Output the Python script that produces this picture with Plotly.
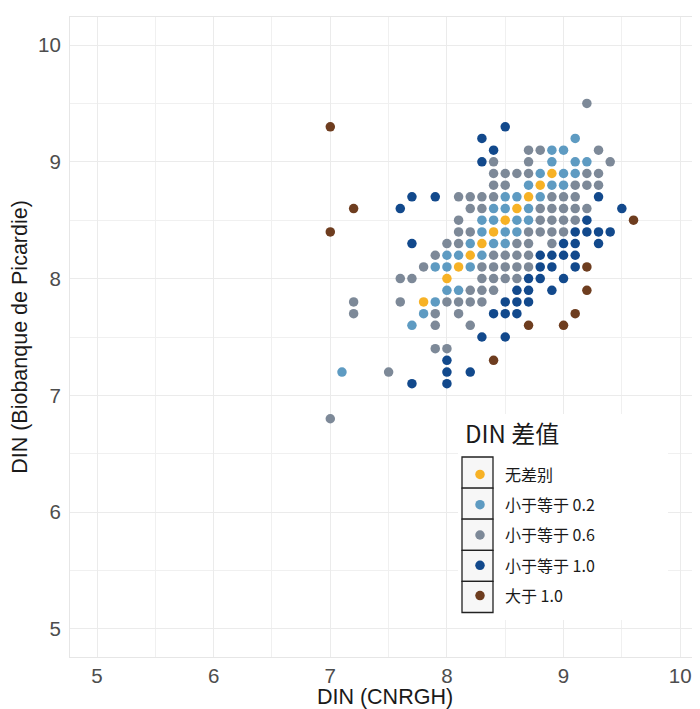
import plotly.graph_objects as go

# ---- data (DIN CNRGH = x, DIN Biobanque de Picardie = y) ----
cat_names = ["无差别", "小于等于 0.2", "小于等于 0.6", "小于等于 1.0", "大于 1.0"]
cat_colors = ["#F7B226", "#5E9BC2", "#7D8998", "#12498C", "#6E3D1F"]
legend_title = "DIN 差值"

same_x = [7.8, 8.0, 8.1, 8.2, 8.3, 8.4, 8.5, 8.6, 8.7, 8.8, 8.9]
same_y = [7.8, 8.0, 8.1, 8.2, 8.3, 8.4, 8.5, 8.6, 8.7, 8.8, 8.9]

le02_x = [9.1, 8.9, 9.0, 8.9, 9.1, 9.2, 8.8, 9.0, 9.1, 8.7, 8.9, 9.0,
          8.5, 8.6, 8.8, 8.4, 8.5, 8.7, 8.3, 8.4, 8.6, 8.7, 8.3, 8.5, 8.6,
          8.2, 8.4, 8.5, 8.0, 8.1, 8.3, 7.9, 8.0, 8.2, 8.0, 8.1, 7.9, 7.8,
          7.7, 7.1]
le02_y = [9.2, 9.1, 9.1, 9.0, 9.0, 9.0, 8.9, 8.9, 8.9, 8.8, 8.8, 8.8,
          8.7, 8.7, 8.7, 8.6, 8.6, 8.6, 8.5, 8.5, 8.5, 8.5, 8.4, 8.4, 8.4,
          8.3, 8.3, 8.3, 8.2, 8.2, 8.2, 8.1, 8.1, 8.1, 7.9, 7.9, 7.8, 7.7,
          7.6, 7.2]

le06_x = [9.2,
          8.7, 8.8, 9.3,
          8.4, 8.7, 9.4,
          8.4, 8.5, 8.6, 8.7, 9.2, 9.3,
          8.4, 8.5, 9.1, 9.2, 9.3,
          8.1, 8.2, 8.3, 8.4, 8.9, 9.0, 9.1,
          8.2, 8.3, 8.8, 8.9, 9.0, 9.1, 9.2,
          8.1, 8.8, 8.9, 9.0, 9.1,
          8.1, 8.2, 8.7, 8.8, 8.9, 9.0,
          8.0, 8.1, 8.6, 8.7, 8.9,
          7.9, 8.4, 8.5, 8.6, 8.7,
          7.8, 8.3, 8.4, 8.5, 8.6, 8.7,
          7.6, 7.7, 8.3, 8.4, 8.5, 8.6,
          8.2, 8.3, 8.4,
          7.2, 7.6, 8.0, 8.1, 8.2, 8.3,
          7.2, 7.9, 8.1,
          7.9, 8.2,
          7.9, 8.0,
          7.5,
          7.0]
le06_y = [9.5,
          9.1, 9.1, 9.1,
          9.0, 9.0, 9.0,
          8.9, 8.9, 8.9, 8.9, 8.9, 8.9,
          8.8, 8.8, 8.8, 8.8, 8.8,
          8.7, 8.7, 8.7, 8.7, 8.7, 8.7, 8.7,
          8.6, 8.6, 8.6, 8.6, 8.6, 8.6, 8.6,
          8.5, 8.5, 8.5, 8.5, 8.5,
          8.4, 8.4, 8.4, 8.4, 8.4, 8.4,
          8.3, 8.3, 8.3, 8.3, 8.3,
          8.2, 8.2, 8.2, 8.2, 8.2,
          8.1, 8.1, 8.1, 8.1, 8.1, 8.1,
          8.0, 8.0, 8.0, 8.0, 8.0, 8.0,
          7.9, 7.9, 7.9,
          7.8, 7.8, 7.8, 7.8, 7.8, 7.8,
          7.7, 7.7, 7.7,
          7.6, 7.6,
          7.4, 7.4,
          7.2,
          6.8]

le10_x = [8.5, 8.3, 8.4, 8.3, 7.7, 7.9, 9.3, 7.6, 9.5, 9.2,
          9.1, 9.2, 9.3, 9.4, 7.7, 9.0, 9.1, 9.3, 8.8, 8.9, 9.0, 9.1,
          8.8, 8.9, 9.1, 8.7, 8.8, 9.0, 8.6, 8.7, 8.9, 8.5, 8.6, 8.7,
          8.4, 8.5, 8.6, 8.3, 8.5, 8.0, 8.0, 8.2, 7.7, 8.0]
le10_y = [9.3, 9.2, 9.1, 9.0, 8.7, 8.7, 8.7, 8.6, 8.6, 8.5,
          8.4, 8.4, 8.4, 8.4, 8.3, 8.3, 8.3, 8.3, 8.2, 8.2, 8.2, 8.2,
          8.1, 8.1, 8.1, 8.0, 8.0, 8.0, 7.9, 7.9, 7.9, 7.8, 7.8, 7.8,
          7.7, 7.7, 7.7, 7.5, 7.5, 7.3, 7.2, 7.2, 7.1, 7.1]

gt10_x = [7.0, 7.2, 7.0, 9.6, 9.2, 9.2, 9.1, 8.7, 9.0, 8.4]
gt10_y = [9.3, 8.6, 8.4, 8.5, 8.1, 7.9, 7.7, 7.6, 7.6, 7.3]

x_ticks = [5, 6, 7, 8, 9, 10]
y_ticks = [5, 6, 7, 8, 9, 10]

series = [(same_x, same_y), (le02_x, le02_y), (le06_x, le06_y),
          (le10_x, le10_y), (gt10_x, gt10_y)]

# ---- figure (page body has an 8px margin) ----
OFF = 8
W, H = 692, 701
ML, MR, MT, MB = 62, 0, 9, 52
PW, PH = W - ML - MR, H - MT - MB

fig = go.Figure()
for i, (name, col, (xs, ys)) in enumerate(zip(cat_names, cat_colors, series)):
    fig.add_trace(go.Scatter(
        x=xs, y=ys, mode="markers", name=name, legendgroup=str(i),
        marker=dict(color=col, size=9.5, line=dict(width=0)),
    ))

def px_x(p):
    return (p - OFF - ML) / PW

def px_y(p):
    return (OFF + H - MB - p) / PH

shapes = []
# legend background (covers the grid)
shapes.append(dict(type="rect", xref="paper", yref="paper", layer="above",
                   x0=px_x(458), x1=px_x(668), y0=px_y(620), y1=px_y(414),
                   fillcolor="white", line=dict(width=0)))
# key boxes
key_top = 457
key_h = 31.1
for i in range(5):
    shapes.append(dict(type="rect", xref="paper", yref="paper", layer="above",
                       x0=px_x(462), x1=px_x(493),
                       y0=px_y(key_top + (i + 1) * key_h), y1=px_y(key_top + i * key_h),
                       fillcolor="#F7F7F7", line=dict(color="#222222", width=1.3)))

fig.update_layout(
    width=W, height=H,
    margin=dict(l=ML, r=MR, t=MT, b=MB, autoexpand=False),
    paper_bgcolor="white", plot_bgcolor="white",
    font=dict(family="Liberation Sans, Arial, sans-serif", color="#222222"),
    shapes=shapes,
    annotations=[dict(text=legend_title, xref="paper", yref="paper",
                      x=px_x(463), y=px_y(432), xanchor="left", yanchor="middle",
                      showarrow=False,
                      font=dict(family="Noto Sans CJK SC", size=24, color="#1A1A1A"))],
    showlegend=True,
    legend=dict(
        x=px_x(455), y=px_y(457.5), xanchor="left", yanchor="top",
        bgcolor="rgba(0,0,0,0)", borderwidth=0,
        font=dict(family="Noto Sans CJK SC", size=16, color="#1A1A1A"),
        tracegroupgap=6.5, itemsizing="trace", itemwidth=40,
    ),
    xaxis=dict(
        range=[4.768, 10.17], tickvals=x_ticks, ticktext=[str(v) for v in x_ticks],
        automargin=False,
        showgrid=True, gridcolor="#EBEBEB", gridwidth=1.2,
        minor=dict(dtick=0.5, tick0=0.5, showgrid=True, gridcolor="#F0F0F0", gridwidth=0.8),
        zeroline=False, showline=True, mirror=True, linecolor="#E6E6E6", linewidth=1,
        ticks="", tickfont=dict(size=20.5, color="#4D4D4D"),
        title=dict(text="DIN (CNRGH)", font=dict(size=21.5, color="#1A1A1A"), standoff=6),
    ),
    yaxis=dict(
        range=[4.76, 10.24], tickvals=y_ticks, ticktext=[str(v) for v in y_ticks],
        automargin=False,
        showgrid=True, gridcolor="#EBEBEB", gridwidth=1.2,
        minor=dict(dtick=0.5, tick0=0.5, showgrid=True, gridcolor="#F0F0F0", gridwidth=0.8),
        zeroline=False, showline=True, mirror=True, linecolor="#E6E6E6", linewidth=1,
        ticks="", tickfont=dict(size=20.5, color="#4D4D4D"), ticklabelstandoff=4,
        title=dict(text="DIN (Biobanque de Picardie)", font=dict(size=21.5, color="#1A1A1A"), standoff=6),
    ),
)

fig.write_html("out.html")
